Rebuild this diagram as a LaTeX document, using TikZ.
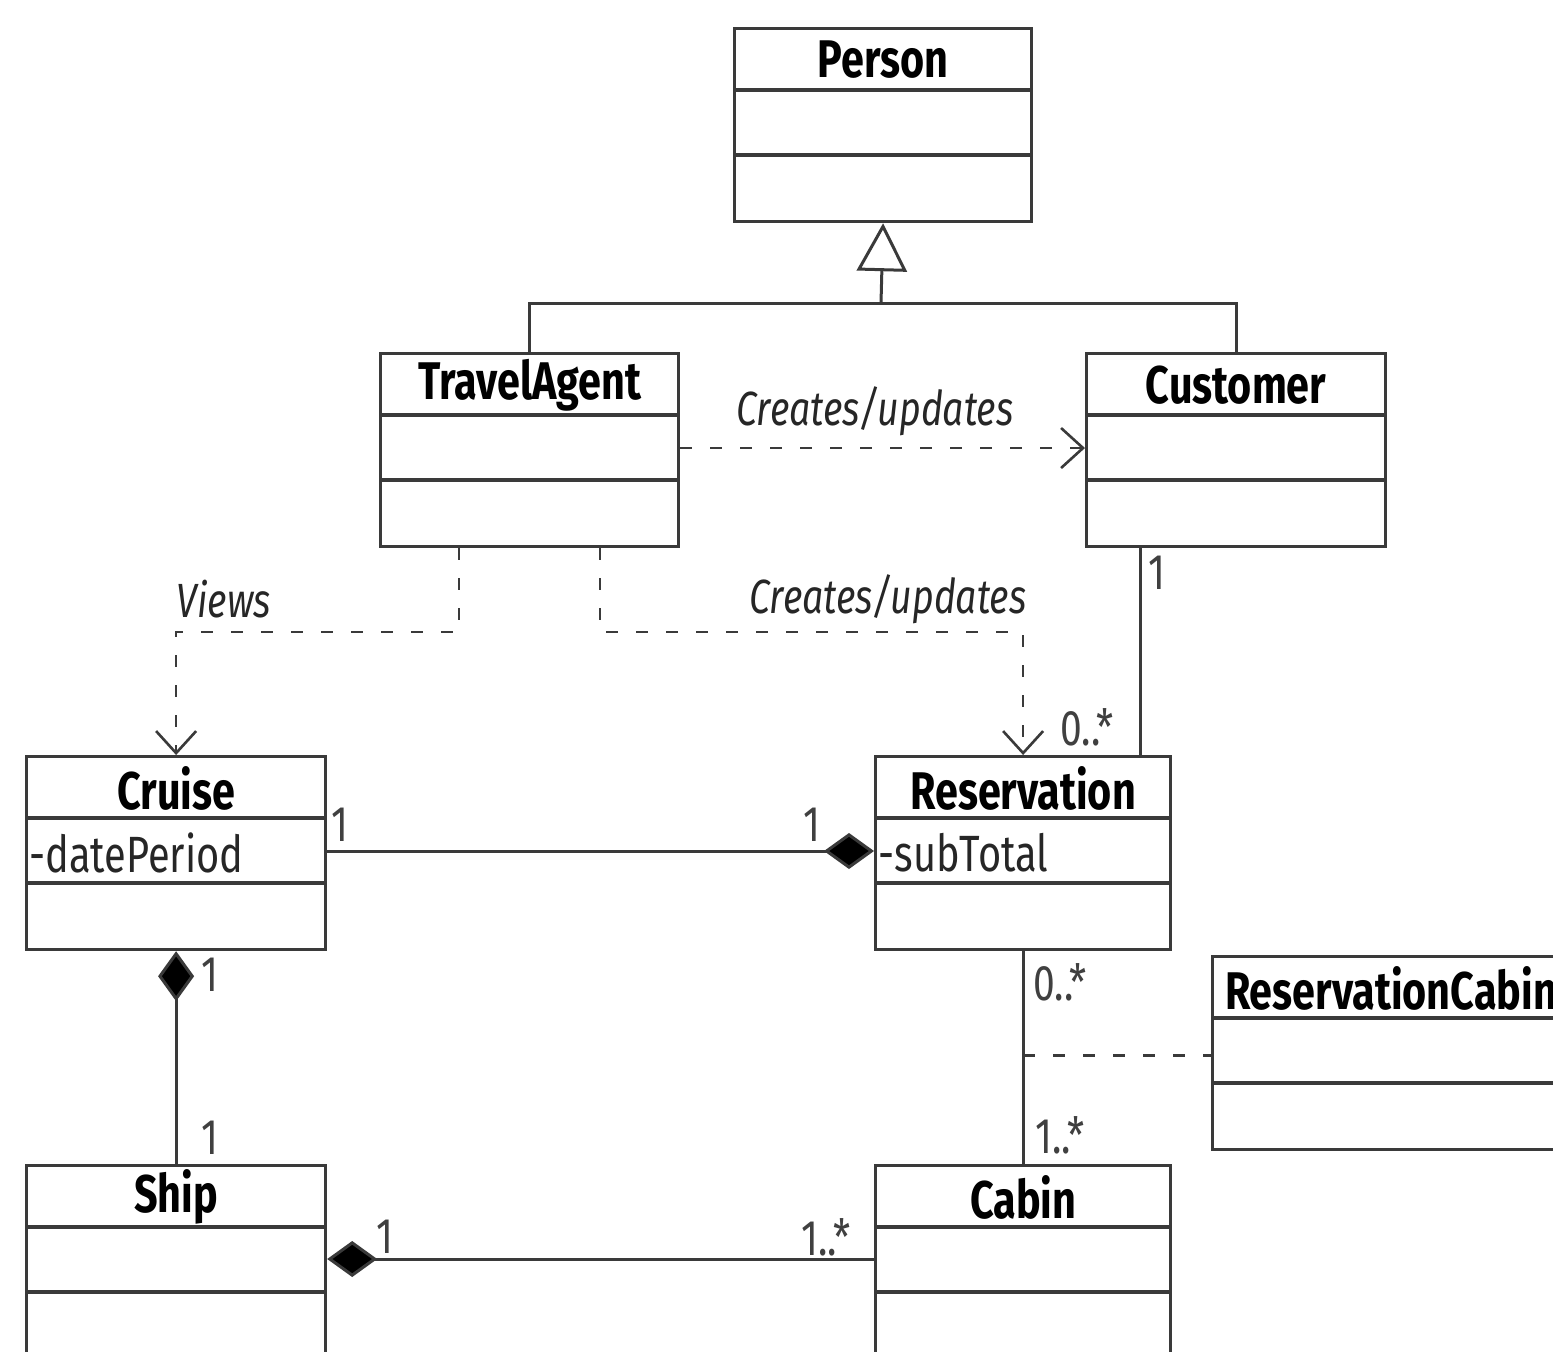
\documentclass[tikz,border=0pt]{standalone}
\usepackage{fontspec}
\setmainfont{Fira Sans}[FakeStretch=0.78]
\usetikzlibrary{arrows.meta,calc}
\definecolor{ln}{HTML}{3A3A3A}
\tikzset{
  clsbox/.style={draw=ln, line width=1.6pt, rectangle, inner sep=0pt, minimum height={193*0.5pt}},
  clsline/.style={draw=ln, line width=1.6pt},
  clstitle/.style={font=\fontsize{26.5}{30}\selectfont\bfseries, inner sep=0pt},
  clsattr/.style={font=\fontsize{25.5}{30}\selectfont, anchor=west, inner sep=0pt, text=black!85},
  mult/.style={font=\fontsize{25}{30}\selectfont, inner sep=0pt, text=black!75},
  deplabel/.style={font=\fontsize{24}{28}\selectfont\itshape, inner sep=0pt, text=black!85},
  assoc/.style={draw=ln, line width=1.5pt},
  dep/.style={draw=ln, line width=1.3pt, dash pattern=on 6pt off 9pt},
  deparrow/.style={dep, -{Straight Barb[length=11pt, width=20pt, line width=1.3pt]}},
  comp/.style={assoc, {Diamond[length=25pt, width=18pt, fill=black]}-},
  compend/.style={assoc, -{Diamond[length=25pt, width=18pt, fill=black]}},
  gen/.style={assoc, -{Triangle[open, length=24pt, width=25pt, fill=white]}},
}
\newcommand{\umlclass}[7][]{%
  \node[clsbox, minimum width={#5*0.5pt}, anchor=north west] (#2) at (#3,#4) {};
  \draw[clsline] ($(#2.north west)+(0,63)$) -- ($(#2.north east)+(0,63)$);
  \draw[clsline] ($(#2.north west)+(0,128)$) -- ($(#2.north east)+(0,128)$);
  \node[clstitle, #1] (#2-title) at ($(#2.north)+(0,33)$) {#6};
  \if\relax\detokenize{#7}\relax\else
    \node[clsattr] (#2-attr) at ($(#2.north west)+(4,98)$) {#7};
  \fi
}
\begin{document}
\begin{tikzpicture}[x=0.5pt, y=-0.5pt]
\useasboundingbox (0,0) rectangle (1553,1351);
\clip (0,0) rectangle (1553,1351);
\fill[white] (0,0) rectangle (1553,1351);

\umlclass{person}{733}{27}{297}{Person}{}
\umlclass{ta}{379}{352}{298}{TravelAgent}{}
\umlclass{cu}{1085}{352}{299}{Customer}{}
\umlclass{cr}{25}{755}{299}{Cruise}{-datePeriod}
\umlclass{rs}{874}{755}{295}{Reservation}{-subTotal}
\umlclass[anchor=west, xshift=-94pt]{rc}{1211}{955}{400}{ReservationCabin}{}
\umlclass{sh}{25}{1164}{299}{Ship}{}
\umlclass{ca}{874}{1164}{295}{Cabin}{}

% generalization
\coordinate (genjoin) at (881,303);
\draw[assoc] (ta.north) -- (ta.north |- genjoin) -- (cu.north |- genjoin) -- (cu.north);
\draw[gen] (genjoin) -- (person.south);

% TravelAgent -> Customer
\draw[deparrow] ($(ta.north east)+(0,96)$) -- ($(cu.north west)+(0,96)$);
\node[deplabel] (l1) at (875,411) {Creates/updates};

% Views
\coordinate (bend) at (0,632);
\draw[deparrow] ($(ta.south west)+(80,0)$) |- (cr.north |- bend) -- (cr.north);
\node[deplabel] (l2) at (224,599) {Views};

% Creates/updates to Reservation
\draw[deparrow] ($(ta.south west)+(221,0)$) |- (rs.north |- bend) -- (rs.north);
\node[deplabel] (l3) at (888,599) {Creates/updates};

% Customer - Reservation
\coordinate (cuj) at ($(cu.south west)+(55,0)$);
\draw[assoc] (cuj) -- (cuj |- rs.north);
\node[mult] (m1) at (1157,573) {1};
\node[mult] (m2) at (1087,727) {0..*};

% Cruise - Reservation
\draw[compend] ($(cr.north east)+(0,96)$) -- ($(rs.north west)+(0,96)$);
\node[mult] (m3) at (340,825) {1};
\node[mult] (m4) at (812,825) {1};

% Cruise - Ship
\draw[comp] (cr.south) -- (sh.north);
\node[mult] (m5) at (210,975) {1};
\node[mult] (m6) at (210,1138) {1};

% Ship - Cabin
\draw[comp] ($(sh.north east)+(0,95)$) -- ($(ca.north west)+(0,95)$);
\node[mult] (m7) at (385,1237) {1};
\node[mult] (m8) at (826,1237) {1..*};

% Reservation - Cabin with association class
\draw[assoc] (rs.south) -- (ca.north);
\coordinate (acj) at ($(rs.south)+(0,104)$);
\draw[dep] (acj) -- (acj -| rc.west);
\node[mult] (m9) at (1060,982) {0..*};
\node[mult] (m10) at (1060,1135) {1..*};
\end{tikzpicture}
\end{document}
